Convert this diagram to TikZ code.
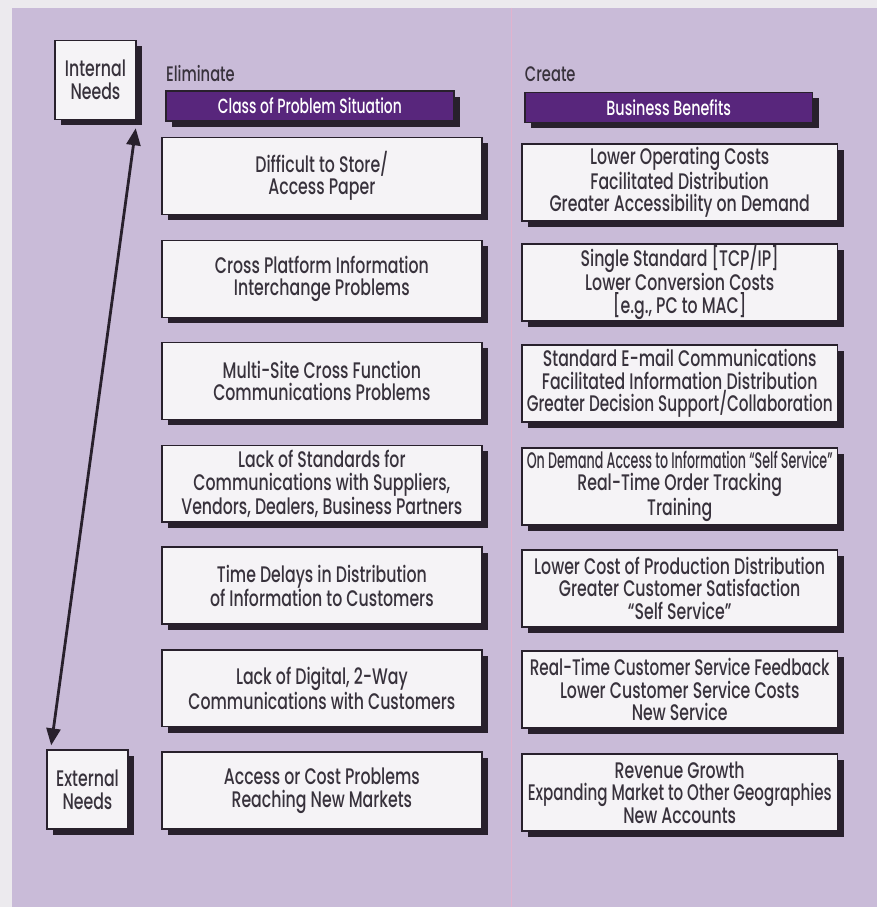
\documentclass[tikz,border=0pt]{standalone}
\usepackage{fontspec}
\usepackage{graphicx}
\setmainfont{Poppins}[UprightFont=* Medium, FakeStretch=0.70]
\usetikzlibrary{shadows,arrows.meta}

\definecolor{page}{RGB}{236,234,238}
\definecolor{panel}{RGB}{201,187,216}
\definecolor{ink}{RGB}{56,50,60}
\definecolor{barfill}{RGB}{88,38,124}
\definecolor{boxfill}{RGB}{245,243,246}
\definecolor{shade}{RGB}{40,32,44}
\definecolor{gutter}{RGB}{226,178,206}

\tikzset{
  shadowed/.style={general shadow={fill=shade, shadow xshift=6pt, shadow yshift=-6pt}},
  cell/.style={shadowed, draw=shade, line width=1.6pt, fill=boxfill, text=ink,
    align=center, inner sep=0pt, font=\fontsize{22.5}{22.5}\selectfont},
  leftcell/.style={cell, minimum width=320pt, minimum height=77pt},
  rightcell/.style={cell, minimum width=316pt, minimum height=77pt},
  needbox/.style={cell, minimum width=81pt, minimum height=79pt},
  headbar/.style={shadowed, draw=shade, line width=1.6pt, fill=barfill, text=white,
    inner sep=0pt, minimum width=288pt, minimum height=30pt,
    font=\fontsize{20.5}{21}\selectfont},
  colhead/.style={text=ink, anchor=base west, inner sep=0pt,
    font=\fontsize{21}{22}\selectfont},
  twoway/.style={draw=shade, line width=2.8pt,
    {Triangle[length=17pt,width=14pt]}-{Triangle[length=17pt,width=14pt]}},
}

\begin{document}
\begin{tikzpicture}[x=1pt,y=-1pt]
  % page and tinted panel
  \fill[page] (0,0) rectangle (877,907);
  \fill[panel] (12,8) rectangle (877,907);
  \draw[gutter, line width=0.8pt] (512,8) -- (512,907);
  \useasboundingbox (0,0) rectangle (877,907);

  % needs scale
  \node[needbox] (int) at (95.5,80) {Internal\\Needs};
  \node[needbox] (ext) at (87.5,790) {External\\Needs};
  \draw[twoway] ([xshift=5pt,yshift=4pt]ext.north west) -- ([xshift=-1pt,yshift=-8pt]int.south east);

  % column headings
  \node[colhead] (elim) at (166,82) {Eliminate};
  \node[colhead] (crea) at (525,82) {Create};
  \node[headbar] (hl) at (310,106) {\resizebox{184pt}{\height}{Class of Problem Situation}};
  \node[headbar] (hr) at (669,107.5) {Business Benefits};

  % problem situations
  \node[leftcell] (l1) at (322,176) {Difficult to Store/\\Access Paper};
  \node[leftcell] (l2) at (322,279) {Cross Platform Information\\Interchange Problems};
  \node[leftcell] (l3) at (322,381) {Multi-Site Cross Function\\Communications Problems};
  \node[leftcell] (l4) at (322,484) {Lack of Standards for\\Communications with Suppliers,\\Vendors, Dealers, Business Partners};
  \node[leftcell] (l5) at (322,586) {Time Delays in Distribution\\of Information to Customers};
  \node[leftcell] (l6) at (322,688.5) {Lack of Digital, 2-Way\\Communications with Customers};
  \node[leftcell] (l7) at (322,791) {Access or Cost Problems\\Reaching New Markets};

  % business benefits
  \node[rightcell] (r1) at (680,182.5) {Lower Operating Costs\\Facilitated Distribution\\Greater Accessibility on Demand};
  \node[rightcell] (r2) at (680,282.5) {Single Standard [TCP/IP]\\Lower Conversion Costs\\{[e.g., PC to MAC]}};
  \node[rightcell] (r3) at (680,383.5) {Standard E-mail Communications\\Facilitated Information Distribution\\\resizebox{306pt}{\height}{Greater Decision Support/Collaboration}};
  \node[rightcell] (r4) at (680,486.5) {\resizebox{306pt}{\height}{On Demand Access to Information “Self Service”}\\Real-Time Order Tracking\\Training};
  \node[rightcell] (r5) at (680,588.5) {Lower Cost of Production Distribution\\Greater Customer Satisfaction\\“Self Service”};
  \node[rightcell] (r6) at (680,690) {\resizebox{300pt}{\height}{Real-Time Customer Service Feedback}\\Lower Customer Service Costs\\New Service};
  \node[rightcell] (r7) at (680,793) {Revenue Growth\\\resizebox{304pt}{\height}{Expanding Market to Other Geographies}\\New Accounts};
\end{tikzpicture}
\end{document}
